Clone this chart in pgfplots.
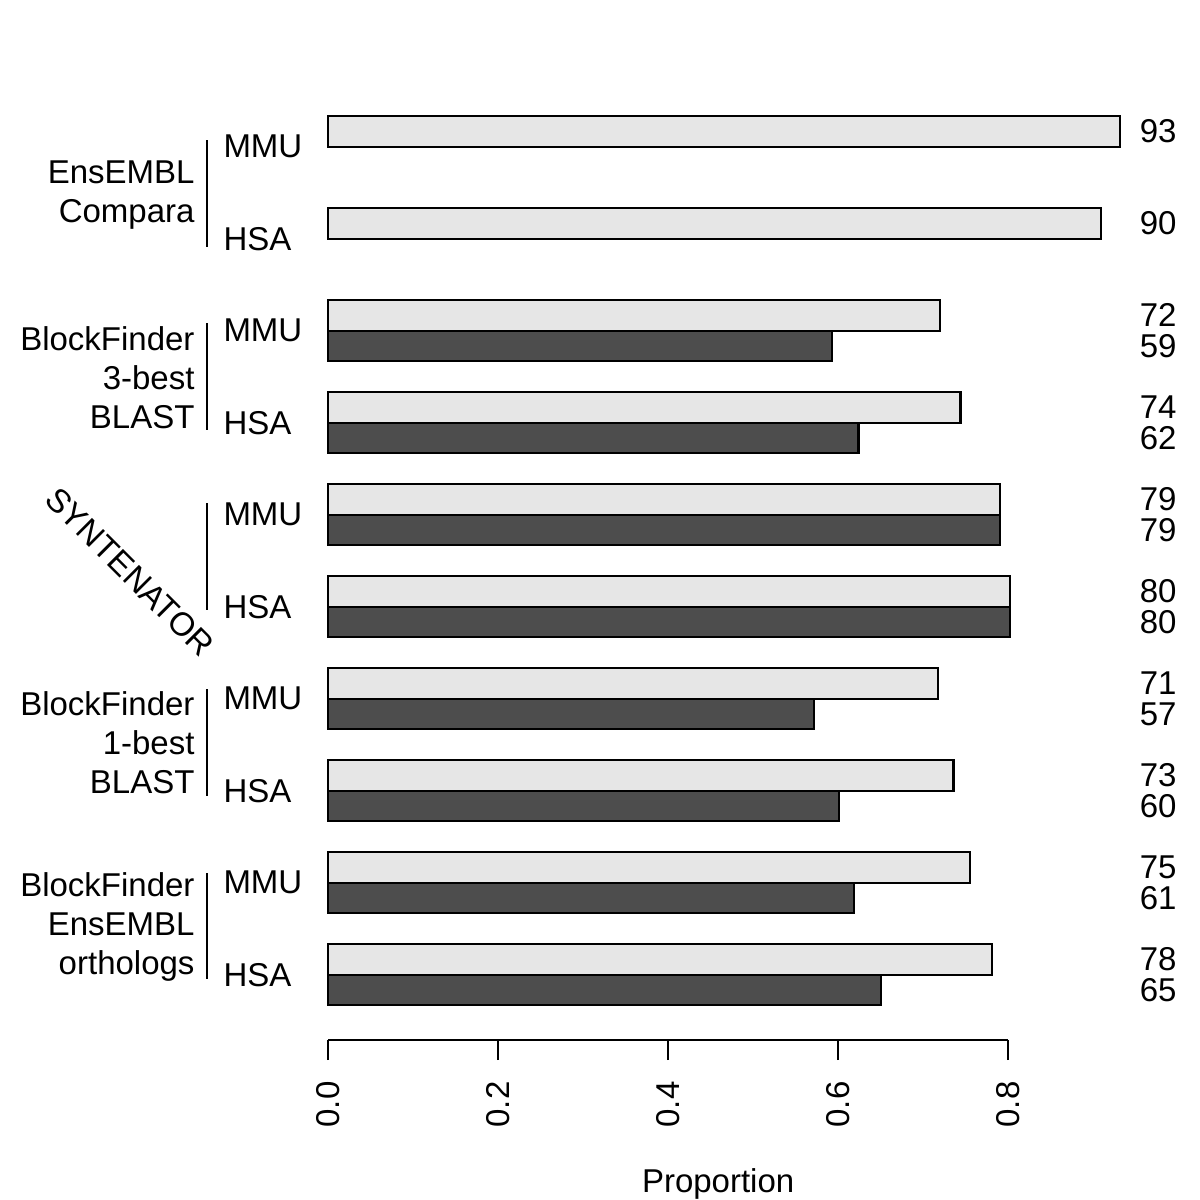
\documentclass[border=0pt]{standalone}
\usepackage{fontspec}
\setmainfont{Liberation Sans}
\usepackage{pgfplots}
\pgfplotsset{compat=1.18}
\definecolor{barlight}{HTML}{E6E6E6}
\definecolor{bardark}{HTML}{4D4D4D}
\newcommand{\chartfont}{\fontsize{13.2}{16}\selectfont}
\begin{document}
\begin{tikzpicture}[font=\chartfont]
\useasboundingbox (0,0) rectangle (480pt,480pt);
\begin{axis}[
  at={(0,0)}, anchor=south west,
  scale only axis, width=480pt, height=480pt,
  xmin=-0.385882, xmax=1.025882, ymin=0, ymax=1200, y dir=reverse,
  hide axis, clip=false,
]
% light bars (first series)
\addplot[xbar, bar width=30.667, bar shift=0pt, fill=barlight, draw=black, line width=0.9pt] coordinates {
(0.932,131.33) (0.909,223.33) (0.720,315.33) (0.744,407.33) (0.791,499.33)
(0.802,591.33) (0.718,683.33) (0.736,775.33) (0.755,867.33) (0.781,959.33)};
% dark bars (second series; none for EnsEMBL Compara)
\addplot[xbar, bar width=30.667, bar shift=0pt, fill=bardark, draw=black, line width=0.9pt] coordinates {
(0.593,346) (0.624,438) (0.791,530) (0.802,622)
(0.572,714) (0.601,806) (0.619,898) (0.651,990)};

% value labels
\begin{scope}[every node/.style={anchor=east, inner sep=0pt}]
\node at (axis cs:0.9988,131.33) {93};
\node at (axis cs:0.9988,223.33) {90};
\node at (axis cs:0.9988,315.33) {72};
\node at (axis cs:0.9988,346) {59};
\node at (axis cs:0.9988,407.33) {74};
\node at (axis cs:0.9988,438) {62};
\node at (axis cs:0.9988,499.33) {79};
\node at (axis cs:0.9988,530) {79};
\node at (axis cs:0.9988,591.33) {80};
\node at (axis cs:0.9988,622) {80};
\node at (axis cs:0.9988,683.33) {71};
\node at (axis cs:0.9988,714) {57};
\node at (axis cs:0.9988,775.33) {73};
\node at (axis cs:0.9988,806) {60};
\node at (axis cs:0.9988,867.33) {75};
\node at (axis cs:0.9988,898) {61};
\node at (axis cs:0.9988,959.33) {78};
\node at (axis cs:0.9988,990) {65};
\end{scope}

% species labels
\begin{scope}[every node/.style={anchor=west, inner sep=0pt}]
\node at (axis cs:-0.12353,146.67) {MMU};
\node at (axis cs:-0.12353,238.67) {HSA};
\node at (axis cs:-0.12353,330.67) {MMU};
\node at (axis cs:-0.12353,422.67) {HSA};
\node at (axis cs:-0.12353,514.67) {MMU};
\node at (axis cs:-0.12353,606.67) {HSA};
\node at (axis cs:-0.12353,698.67) {MMU};
\node at (axis cs:-0.12353,790.67) {HSA};
\node at (axis cs:-0.12353,882.67) {MMU};
\node at (axis cs:-0.12353,974.67) {HSA};
\end{scope}

% group brackets
\begin{scope}[line width=1pt]
\draw (axis cs:-0.14235,140) -- (axis cs:-0.14235,247);
\draw (axis cs:-0.14235,323) -- (axis cs:-0.14235,430);
\draw (axis cs:-0.14235,503) -- (axis cs:-0.14235,610);
\draw (axis cs:-0.14235,689) -- (axis cs:-0.14235,796);
\draw (axis cs:-0.14235,873) -- (axis cs:-0.14235,979);
\end{scope}

% group names
\begin{scope}[every node/.style={anchor=base east, inner sep=0pt}]
\node at (axis cs:-0.15647,183) {EnsEMBL};
\node at (axis cs:-0.15647,222) {Compara};
\node at (axis cs:-0.15647,350) {BlockFinder};
\node at (axis cs:-0.15647,389) {3-best};
\node at (axis cs:-0.15647,428) {BLAST};
\node at (axis cs:-0.15647,715) {BlockFinder};
\node at (axis cs:-0.15647,754) {1-best};
\node at (axis cs:-0.15647,793) {BLAST};
\node at (axis cs:-0.15647,896) {BlockFinder};
\node at (axis cs:-0.15647,935) {EnsEMBL};
\node at (axis cs:-0.15647,974) {orthologs};
\end{scope}
\node[rotate=-45, inner sep=0pt] at (axis cs:-0.2329,572) {SYNTENATOR};

\node[anchor=base, inner sep=0pt] at (axis cs:0.459,1192) {Proportion};
\end{axis}

% x axis
\begin{axis}[
  at={(131.2pt,64pt)}, anchor=south west,
  scale only axis, width=272pt, height=20pt,
  xmin=0, xmax=0.8, ymin=0, ymax=1,
  axis x line*=bottom, hide y axis,
  axis line style={-, line width=0.8pt},
  xtick={0,0.2,0.4,0.6,0.8},
  xticklabels={0.0,0.2,0.4,0.6,0.8},
  tick align=outside, major tick length=8pt,
  tick style={line width=0.8pt, black},
  xticklabel style={rotate=90, anchor=east, inner sep=0pt, font=\chartfont},
  xticklabel shift=8.4pt,
]
\addplot[draw=none] coordinates {(0,0) (0.8,1)};
\end{axis}
\end{tikzpicture}
\end{document}
